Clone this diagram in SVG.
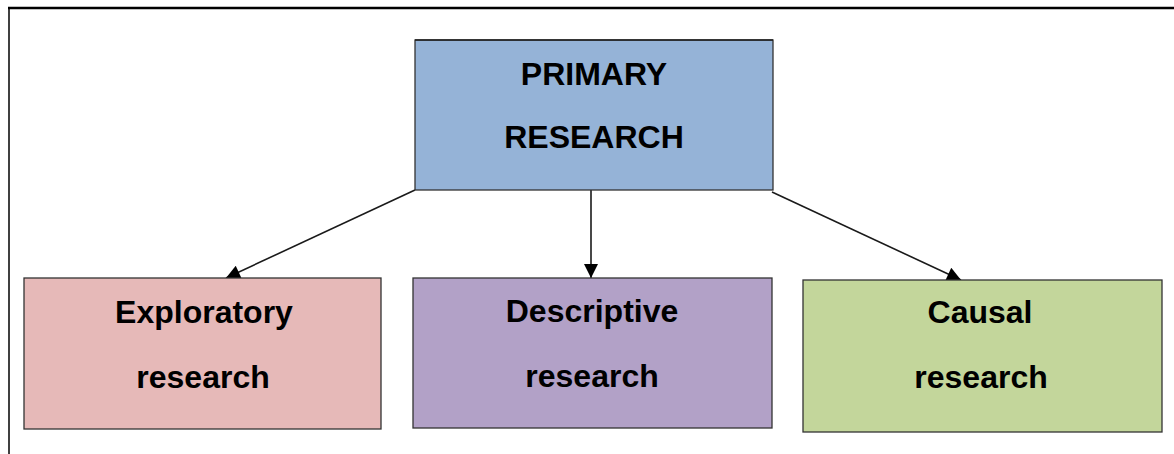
<svg xmlns="http://www.w3.org/2000/svg" width="1174" height="454" viewBox="0 0 1174 454">
  <style>
    .box { stroke: #333333; stroke-width: 1.3; }
    .label { font-family: "Liberation Sans", Arial, sans-serif; font-weight: bold; font-size: 32px; fill: #000000; text-anchor: middle; }
    .conn { stroke: #1a1a1a; stroke-width: 1.6; fill: none; marker-end: url(#arrow); }
  </style>
  <defs>
    <marker id="arrow" viewBox="0 0 10 10" refX="10" refY="5" markerWidth="15" markerHeight="14" markerUnits="userSpaceOnUse" orient="auto">
      <path d="M0,0 L10,5 L0,10 z" fill="#000000"/>
    </marker>
  </defs>

  <rect x="0" y="0" width="1174" height="454" fill="#ffffff"/>

  <!-- outer frame -->
  <g id="frame">
    <line x1="8" y1="8" x2="1174" y2="8" stroke="#000000" stroke-width="2.5"/>
    <line x1="9" y1="8" x2="9" y2="454" stroke="#000000" stroke-width="1.5"/>
  </g>

  <!-- connectors -->
  <g id="connectors">
    <line class="conn" x1="415" y1="190" x2="226" y2="278"/>
    <line class="conn" x1="591" y1="190" x2="591" y2="278"/>
    <line class="conn" x1="772" y1="192" x2="961" y2="280"/>
  </g>

  <g id="primary">
    <rect class="box" x="415" y="40" width="358" height="150" fill="#95B3D7"/>
    <line x1="415" y1="40" x2="773" y2="40" stroke="#1f1f1f" stroke-width="1.5"/>
    <text class="label" x="594" y="85">PRIMARY</text>
    <text class="label" x="594" y="148">RESEARCH</text>
  </g>

  <g id="exploratory">
    <rect class="box" x="24" y="278" width="357" height="151" fill="#E6B9B8"/>
    <text class="label" x="204" y="323">Exploratory</text>
    <text class="label" x="203" y="388">research</text>
  </g>

  <g id="descriptive">
    <rect class="box" x="413" y="278" width="359" height="150" fill="#B2A1C7"/>
    <text class="label" x="592" y="322">Descriptive</text>
    <text class="label" x="592" y="387">research</text>
  </g>

  <g id="causal">
    <rect class="box" x="803" y="280" width="359" height="152" fill="#C3D69B"/>
    <text class="label" x="980" y="323">Causal</text>
    <text class="label" x="981" y="388">research</text>
  </g>
</svg>
